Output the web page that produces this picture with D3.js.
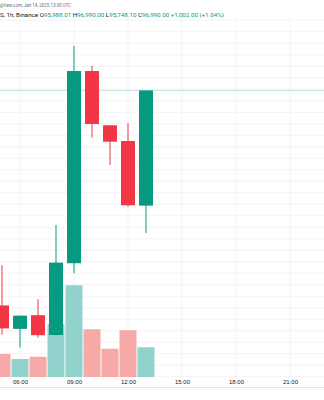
<!DOCTYPE html>
<html>
<head>
<meta charset="utf-8">
<script src="https://cdn.jsdelivr.net/npm/d3@7"></script>
<style>
  html, body { margin: 0; padding: 0; background: #fff; }
  svg { display: block; font-family: Roboto, "Liberation Sans", sans-serif; }
</style>
</head>
<body>
<script>
'use strict';

// BTCUSDT 1h candles, Jan 14 2025 (UTC hour of the bar)
var hours   = [5, 6, 7, 8, 9, 10, 11, 12, 13];
var opens   = [95120, 94916, 95035, 94863, 95487, 97159, 96687, 96550, 95988];
var highs   = [95470, 95031, 95174, 95820, 97377, 97203, 96687, 96704, 96990];
var lows    = [94865, 94753, 94840, 94860, 95400, 96579, 96342, 95979, 95748];
var closes  = [94920, 95031, 94861, 95492, 97159, 96698, 96544, 95991, 96990];
var volumes = [920, 720, 810, 2110, 3670, 1910, 1130, 1870, 1190];

var lastPrice   = 96990;
var priceGrid   = d3.range(94500, 97700, 100);
var tickHours   = [6, 9, 12, 15, 18, 21];

// header, as much of it as the snapshot shows (left part is cropped)
var headerLine1 = "gView.com, Jan 14, 2025 13:30 UTC";
var headerName  = "S, 1h, Binance ";
var ohlcLabels  = ["O", "H", "L", "C"];
var ohlcValues  = ["95,988.01", "96,990.00", "95,748.10", "96,990.00"];
var changeText  = "+1,002.00 (+1.04%)";

var W = 324, H = 400;
var UP = "#089981", DOWN = "#f23645",
    VOL_UP = "#92d2cc", VOL_DOWN = "#f7a9a7",
    GRID = "#f2f3f5", TEXT = "#131722";

function utc(h) { return new Date(Date.UTC(2025, 0, 14, h)); }

var bars = hours.map(function(h, i) {
    return {t: utc(h), o: opens[i], h: highs[i], l: lows[i], c: closes[i], v: volumes[i]};
});

var svg = d3.select("body").append("svg")
    .attr("width", W).attr("height", H);

var xScale = d3.scaleUtc().domain([utc(6), utc(21)]).range([20, 290]),
    yScale = d3.scaleLinear().domain([94500, 97600]).range([376.7, 20.3]),
    vScale = d3.scaleLinear().domain([0, 4000]).range([377, 277]);

// grid
svg.append("g").selectAll("line").data(priceGrid).enter().append("line")
    .attr("x1", 0).attr("x2", W)
    .attr("y1", function(d){ return yScale(d); })
    .attr("y2", function(d){ return yScale(d); })
    .style("stroke", GRID).style("stroke-width", 1);

svg.append("g").selectAll("line").data(tickHours).enter().append("line")
    .attr("x1", function(d){ return xScale(utc(d)); })
    .attr("x2", function(d){ return xScale(utc(d)); })
    .attr("y1", 17).attr("y2", 377)
    .style("stroke", GRID).style("stroke-width", 1);

// volume
svg.append("g").selectAll("rect").data(bars).enter().append("rect")
    .attr("x", function(d){ return xScale(d.t) - 8.5; })
    .attr("width", 17)
    .attr("y", function(d){ return vScale(d.v); })
    .attr("height", function(d){ return vScale(0) - vScale(d.v); })
    .style("fill", function(d){ return d.c >= d.o ? VOL_UP : VOL_DOWN; });

// last price line
svg.append("line")
    .attr("x1", 0).attr("x2", W)
    .attr("y1", yScale(lastPrice)).attr("y2", yScale(lastPrice))
    .style("stroke", "#c3e6e0").style("stroke-width", 1);

// candles
var candle = svg.append("g").selectAll("g").data(bars).enter().append("g");
candle.append("line")
    .attr("x1", function(d){ return xScale(d.t); })
    .attr("x2", function(d){ return xScale(d.t); })
    .attr("y1", function(d){ return yScale(d.h); })
    .attr("y2", function(d){ return yScale(d.l); })
    .style("stroke", function(d){ return d.c >= d.o ? UP : DOWN; })
    .style("stroke-width", 1);
candle.append("rect")
    .attr("x", function(d){ return xScale(d.t) - 7; })
    .attr("width", 14)
    .attr("y", function(d){ return yScale(Math.max(d.o, d.c)); })
    .attr("height", function(d){ return Math.max(1, Math.abs(yScale(d.o) - yScale(d.c))); })
    .style("fill", function(d){ return d.c >= d.o ? UP : DOWN; });

// time axis
var xAxis = d3.axisBottom(xScale)
    .tickValues(tickHours.map(utc))
    .tickFormat(d3.utcFormat("%H:%M"))
    .tickSize(0).tickPadding(0);
var ax = svg.append("g").attr("transform", "translate(0,380)").call(xAxis);
ax.select(".domain").remove();
ax.selectAll("text")
    .attr("dy", "0.32em").attr("y", 2)
    .style("font-size", "6px").style("fill", TEXT).style("font-family", null);

svg.append("line")
    .attr("x1", 0).attr("x2", W).attr("y1", 387.5).attr("y2", 387.5)
    .style("stroke", "#e0e3eb").style("stroke-width", 1);

// header
svg.append("text")
    .attr("x", 0).attr("y", 5).attr("dy", "0.35em")
    .attr("textLength", 71).attr("lengthAdjust", "spacingAndGlyphs")
    .style("font-size", "5.4px").style("fill", "#6a6d78")
    .text(headerLine1);

var h2 = svg.append("text")
    .attr("x", 0).attr("y", 14.7).attr("dy", "0.35em")
    .style("font-size", "6.2px").style("fill", TEXT);
h2.append("tspan").text(headerName);
ohlcLabels.forEach(function(lbl, i) {
    h2.append("tspan").style("fill", TEXT).text(lbl);
    h2.append("tspan").style("fill", UP).text(ohlcValues[i] + " ");
});
h2.append("tspan").style("fill", UP).text(changeText);
</script>
</body>
</html>
